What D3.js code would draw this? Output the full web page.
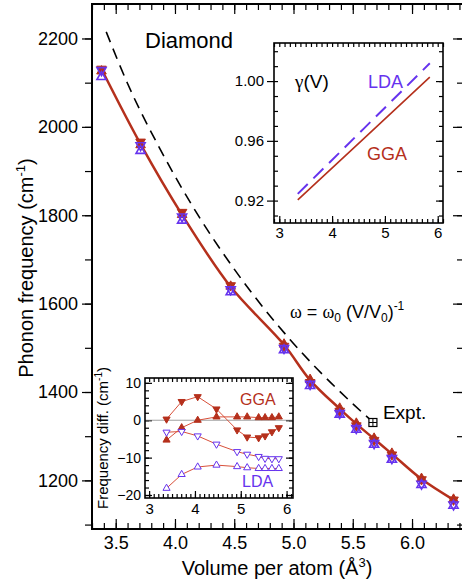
<!DOCTYPE html>
<html>
<head>
<meta charset="utf-8">
<script src="https://cdn.jsdelivr.net/npm/d3@7"></script>
<style>
  body { margin: 0; background: #fff; }
  text { font-family: "Liberation Sans", Arial, sans-serif; }
</style>
</head>
<body>
<svg width="462" height="580"></svg>
<script>
// main panel: volumes and frequencies (cm-1)
var volumes = [3.38, 3.71, 4.06, 4.47, 4.92, 5.14, 5.39, 5.53, 5.68, 5.83, 6.08, 6.35]
var ggaLine = [2131, 1961, 1801, 1638, 1507, 1427, 1362, 1328, 1294, 1260, 1203, 1156]
var ggaDown = [2131, 1966, 1807, 1641, 1504, 1422, 1357, 1324, 1291, 1258, 1202, 1156]
var ggaUp = [2126, 1959, 1801, 1639, 1508, 1428, 1363, 1329, 1295, 1261, 1204, 1157]
var ldaDown = [2128, 1958, 1797, 1632, 1499, 1418, 1352, 1318, 1284, 1250, 1192, 1145]
var ldaUp = [2113, 1946, 1788, 1626, 1495, 1414, 1349, 1315, 1281, 1247, 1190, 1143]

// dashed omega ~ 1/V curve
var scaleV = [3.42, 3.6, 3.87, 4.2, 4.5, 4.97, 5.2, 5.51, 5.64]
var scaleW = [2215, 2098, 1952, 1798, 1678, 1519, 1452, 1371, 1339]
var expt = [5.67, 1331]

// gamma inset
var gamV = [3.35, 4.6, 5.85]
var gamGGA = [0.9205, 0.9615, 1.0027]
var gamLDA = [0.9245, 0.9682, 1.0119]

// frequency difference inset
var diffV = [3.38, 3.71, 4.06, 4.47, 4.92, 5.14, 5.39, 5.53, 5.68, 5.83]
var diffGgaDown = [0.3, 5.0, 6.3, 3.0, -2.6, -4.5, -4.7, -4.2, -3.1, -2.0]
var diffGgaUp = [-5.3, -2.0, 0, 0.9, 0.9, 0.9, 0.7, 0.7, 0.7, 0.9]
var diffLdaDown = [-3.2, -3.0, -4.2, -6.4, -8.4, -9.1, -9.7, -10.2, -10.3, -10.3]
var diffLdaUp = [-18.2, -14.5, -12.5, -12.0, -12.4, -12.7, -12.9, -12.9, -12.9, -12.9]

var xMajor = [3.5, 4.0, 4.5, 5.0, 5.5, 6.0]
var yMajor = [1200, 1400, 1600, 1800, 2000, 2200]

var RED = "#b5301c", RED2 = "#d8503a", PUR = "#6633ee"

var svg = d3.select("svg")

var x = d3.scaleLinear().domain([3.3, 6.43]).range([92, 463]),
    y = d3.scaleLinear().domain([1090, 2278]).range([529, 4])

function styleAxis(g, fs) {
    g.select(".domain").remove()
    g.selectAll("line").attr("stroke", "#000").attr("stroke-width", 1.2)
    g.selectAll("text").attr("fill", "#000").style("font-size", fs + "px")
        .style("font-family", '"Liberation Sans", Arial, sans-serif')
}
function noLabel() { return "" }

//Achsen Hauptbild
var xMinor = d3.range(33, 65).map(d => d / 10)
var yMinor = d3.range(11, 23).map(d => d * 100)

svg.append("g").attr("transform", "translate(0,529)")
    .call(d3.axisBottom(x).tickValues(xMinor).tickSize(-6).tickFormat(noLabel))
    .call(g => styleAxis(g, 18))
svg.append("g").attr("transform", "translate(0,529)")
    .call(d3.axisBottom(x).tickValues(xMajor).tickSize(-10).tickPadding(7).tickFormat(d3.format(".1f")))
    .call(g => styleAxis(g, 18))
svg.append("g").attr("transform", "translate(0,4)")
    .call(d3.axisTop(x).tickValues(xMinor).tickSize(-6).tickFormat(noLabel))
    .call(g => styleAxis(g, 18))
svg.append("g").attr("transform", "translate(0,4)")
    .call(d3.axisTop(x).tickValues(xMajor).tickSize(-10).tickFormat(noLabel))
    .call(g => styleAxis(g, 18))

svg.append("g").attr("transform", "translate(92,0)")
    .call(d3.axisLeft(y).tickValues(yMinor).tickSize(7).tickFormat(noLabel))
    .call(g => styleAxis(g, 18))
svg.append("g").attr("transform", "translate(92,0)")
    .call(d3.axisLeft(y).tickValues(yMajor).tickSize(10).tickPadding(4).tickFormat(d3.format("d")))
    .call(g => styleAxis(g, 18))
svg.append("g").attr("transform", "translate(463,0)")
    .call(d3.axisRight(y).tickValues(yMinor).tickSize(-6).tickFormat(noLabel))
    .call(g => styleAxis(g, 18))
svg.append("g").attr("transform", "translate(463,0)")
    .call(d3.axisRight(y).tickValues(yMajor).tickSize(-10).tickFormat(noLabel))
    .call(g => styleAxis(g, 18))

svg.append("rect").attr("x", 92).attr("y", 4).attr("width", 371).attr("height", 525)
    .attr("fill", "none").attr("stroke", "#000").attr("stroke-width", 2)

//Achsentitel
svg.append("text").attr("transform", "translate(33,268) rotate(-90)")
    .attr("text-anchor", "middle").style("font-size", "20px")
    .text("Phonon frequency (cm")
    .call(t => t.append("tspan").attr("dy", -8).style("font-size", "13px").text("-1"))
    .call(t => t.append("tspan").attr("dy", 8).text(")"))

svg.append("text").attr("x", 277).attr("y", 575)
    .attr("text-anchor", "middle").style("font-size", "20px")
    .text("Volume per atom (Å")
    .call(t => t.append("tspan").attr("dy", -8).style("font-size", "13px").text("3"))
    .call(t => t.append("tspan").attr("dy", 8).text(")"))

svg.append("text").attr("x", 145).attr("y", 48).style("font-size", "22px").text("Diamond")

//gestrichelte Linie
var dashed = d3.line().x(d => x(d[0])).y(d => y(d[1])).curve(d3.curveMonotoneX)
svg.append("path").datum(d3.zip(scaleV, scaleW)).attr("d", dashed)
    .attr("fill", "none").attr("stroke", "#000").attr("stroke-width", 1.6)
    .attr("stroke-dasharray", "11,7")

var ft = svg.append("text").attr("x", 290).attr("y", 318).style("font-size", "18px")
ft.append("tspan").style("font-family", '"Liberation Serif", serif').text("ω")
ft.append("tspan").text(" = ")
ft.append("tspan").style("font-family", '"Liberation Serif", serif').text("ω")
ft.append("tspan").attr("dy", 4).style("font-size", "12px").text("0")
ft.append("tspan").attr("dy", -4).text(" (V/V")
ft.append("tspan").attr("dy", 4).style("font-size", "12px").text("0")
ft.append("tspan").attr("dy", -4).text(")")
ft.append("tspan").attr("dy", -8).style("font-size", "12px").text("-1")

// expt point
var ex = x(expt[0]), ey = y(expt[1])
svg.append("rect").attr("x", ex - 4).attr("y", ey - 4).attr("width", 8).attr("height", 8)
    .attr("fill", "#fff").attr("stroke", "#000").attr("stroke-width", 1.2)
svg.append("path").attr("d", `M${ex - 4},${ey}H${ex + 4}M${ex},${ey - 4}V${ey + 4}`)
    .attr("stroke", "#000").attr("stroke-width", 1)
svg.append("text").attr("x", ex + 10).attr("y", ey - 3).style("font-size", "19px").text("Expt.")

//rote Kurve
var line = d3.line().x(d => x(d[0])).y(d => y(d[1])).curve(d3.curveCatmullRom)
svg.append("path").datum(d3.zip(volumes, ggaLine)).attr("d", line)
    .attr("fill", "none").attr("stroke", RED).attr("stroke-width", 2.5)

function markers(g, xs, ys, vx, vy, size, down, fill, stroke, sw) {
    g.selectAll(null).data(d3.zip(vx, vy)).enter().append("path")
        .attr("d", d3.symbol(d3.symbolTriangle, size))
        .attr("transform", d => `translate(${xs(d[0])},${ys(d[1])})` + (down ? " rotate(180)" : ""))
        .attr("fill", fill).attr("stroke", stroke).attr("stroke-width", sw)
}
markers(svg, x, y, volumes, ggaUp, 40, false, RED, RED, 1)
markers(svg, x, y, volumes, ggaDown, 40, true, RED, RED, 1)
markers(svg, x, y, volumes, ldaDown, 36, true, "none", PUR, 1.6)
markers(svg, x, y, volumes, ldaUp, 36, false, "none", PUR, 1.6)

// ---- inset gamma(V)
var gx = d3.scaleLinear().domain([2.9, 6.1]).range([274, 443]),
    gy = d3.scaleLinear().domain([0.905, 1.0255]).range([223, 43])
var ins1 = svg.append("g")
ins1.append("rect").attr("x", 274).attr("y", 43).attr("width", 169).attr("height", 180)
    .attr("fill", "#fff")
var gxMinor = d3.range(29, 62).map(d => d / 10)
var gyMinor = d3.range(91, 103).map(d => d / 100)
ins1.append("g").attr("transform", "translate(0,223)")
    .call(d3.axisBottom(gx).tickValues(gxMinor).tickSize(-4).tickFormat(noLabel)).call(g => styleAxis(g, 15))
ins1.append("g").attr("transform", "translate(0,223)")
    .call(d3.axisBottom(gx).tickValues([3, 4, 5, 6]).tickSize(-7).tickPadding(4).tickFormat(d3.format("d")))
    .call(g => styleAxis(g, 15))
ins1.append("g").attr("transform", "translate(0,43)")
    .call(d3.axisTop(gx).tickValues(gxMinor).tickSize(-4).tickFormat(noLabel)).call(g => styleAxis(g, 15))
ins1.append("g").attr("transform", "translate(274,0)")
    .call(d3.axisLeft(gy).tickValues(gyMinor).tickSize(-4).tickFormat(noLabel)).call(g => styleAxis(g, 15))
ins1.append("g").attr("transform", "translate(274,0)")
    .call(d3.axisLeft(gy).tickValues([0.92, 0.96, 1.00]).tickSize(7).tickPadding(3).tickFormat(d3.format(".2f")))
    .call(g => styleAxis(g, 15))
ins1.append("g").attr("transform", "translate(443,0)")
    .call(d3.axisRight(gy).tickValues(gyMinor).tickSize(-4).tickFormat(noLabel)).call(g => styleAxis(g, 15))
ins1.append("g").attr("transform", "translate(443,0)")
    .call(d3.axisRight(gy).tickValues([0.92, 0.96, 1.00]).tickSize(-7).tickFormat(noLabel)).call(g => styleAxis(g, 15))
ins1.append("rect").attr("x", 274).attr("y", 43).attr("width", 169).attr("height", 180)
    .attr("fill", "none").attr("stroke", "#000").attr("stroke-width", 1.6)

var gline = d3.line().x(d => gx(d[0])).y(d => gy(d[1]))
ins1.append("path").datum(d3.zip(gamV, gamGGA)).attr("d", gline)
    .attr("fill", "none").attr("stroke", RED).attr("stroke-width", 1.6)
ins1.append("path").datum(d3.zip(gamV, gamLDA)).attr("d", gline)
    .attr("fill", "none").attr("stroke", PUR).attr("stroke-width", 2).attr("stroke-dasharray", "14,8")

ins1.append("text").attr("x", 295).attr("y", 88).style("font-size", "19px")
    .call(t => t.append("tspan").style("font-family", '"Liberation Serif", serif').text("γ"))
    .call(t => t.append("tspan").text("(V)"))
ins1.append("text").attr("x", 368).attr("y", 88).attr("fill", PUR).style("font-size", "18px").text("LDA")
ins1.append("text").attr("x", 367).attr("y", 160).attr("fill", RED).style("font-size", "18px").text("GGA")

// ---- inset frequency diff
var dx = d3.scaleLinear().domain([2.91, 6.14]).range([145, 293]),
    dy = d3.scaleLinear().domain([-20.8, 11.3]).range([498, 378])
var ins2 = svg.append("g")
ins2.append("rect").attr("x", 145).attr("y", 378).attr("width", 148).attr("height", 120)
    .attr("fill", "#fff")
var dxMinor = d3.range(30, 62).map(d => d / 10)
var dyMinor = d3.range(-20, 12, 2)
ins2.append("g").attr("transform", "translate(0,498)")
    .call(d3.axisBottom(dx).tickValues(dxMinor).tickSize(-4).tickFormat(noLabel)).call(g => styleAxis(g, 15))
ins2.append("g").attr("transform", "translate(0,498)")
    .call(d3.axisBottom(dx).tickValues([3, 4, 5, 6]).tickSize(-7).tickPadding(5).tickFormat(d3.format("d")))
    .call(g => styleAxis(g, 15))
ins2.append("g").attr("transform", "translate(0,378)")
    .call(d3.axisTop(dx).tickValues(dxMinor).tickSize(-4).tickFormat(noLabel)).call(g => styleAxis(g, 15))
ins2.append("g").attr("transform", "translate(145,0)")
    .call(d3.axisLeft(dy).tickValues(dyMinor).tickSize(-4).tickFormat(noLabel)).call(g => styleAxis(g, 14))
ins2.append("g").attr("transform", "translate(145,0)")
    .call(d3.axisLeft(dy).tickValues([-20, -10, 0, 10]).tickSize(-7).tickPadding(4).tickFormat(d3.format("d")))
    .call(g => styleAxis(g, 14))
ins2.append("g").attr("transform", "translate(293,0)")
    .call(d3.axisRight(dy).tickValues(dyMinor).tickSize(-4).tickFormat(noLabel)).call(g => styleAxis(g, 14))
ins2.append("g").attr("transform", "translate(293,0)")
    .call(d3.axisRight(dy).tickValues([-20, -10, 0, 10]).tickSize(-7).tickFormat(noLabel)).call(g => styleAxis(g, 14))
ins2.append("line").attr("x1", 145).attr("x2", 293).attr("y1", dy(0)).attr("y2", dy(0))
    .attr("stroke", "#888").attr("stroke-width", 0.8)
ins2.append("rect").attr("x", 145).attr("y", 378).attr("width", 148).attr("height", 120)
    .attr("fill", "none").attr("stroke", "#000").attr("stroke-width", 1.6)

var dline = d3.line().x(d => dx(d[0])).y(d => dy(d[1]))
var diffs = [[diffGgaDown, true, RED, RED], [diffGgaUp, false, RED, RED],
    [diffLdaDown, true, "#fff", PUR], [diffLdaUp, false, "#fff", PUR]]
diffs.forEach(s => {
    ins2.append("path").datum(d3.zip(diffV, s[0])).attr("d", dline)
        .attr("fill", "none").attr("stroke", RED2).attr("stroke-width", 1)
})
diffs.forEach(s => markers(ins2, dx, dy, diffV, s[0], 22, s[1], s[2], s[3], 1))

ins2.append("text").attr("transform", "translate(108,438) rotate(-90)")
    .attr("text-anchor", "middle").style("font-size", "15px")
    .text("Frequency diff. (cm")
    .call(t => t.append("tspan").attr("dy", -6).style("font-size", "10px").text("-1"))
    .call(t => t.append("tspan").attr("dy", 6).text(")"))
ins2.append("text").attr("x", 240).attr("y", 405).attr("fill", RED).style("font-size", "16px").text("GGA")
ins2.append("text").attr("x", 242).attr("y", 487).attr("fill", PUR).style("font-size", "16px").text("LDA")
</script>
</body>
</html>
